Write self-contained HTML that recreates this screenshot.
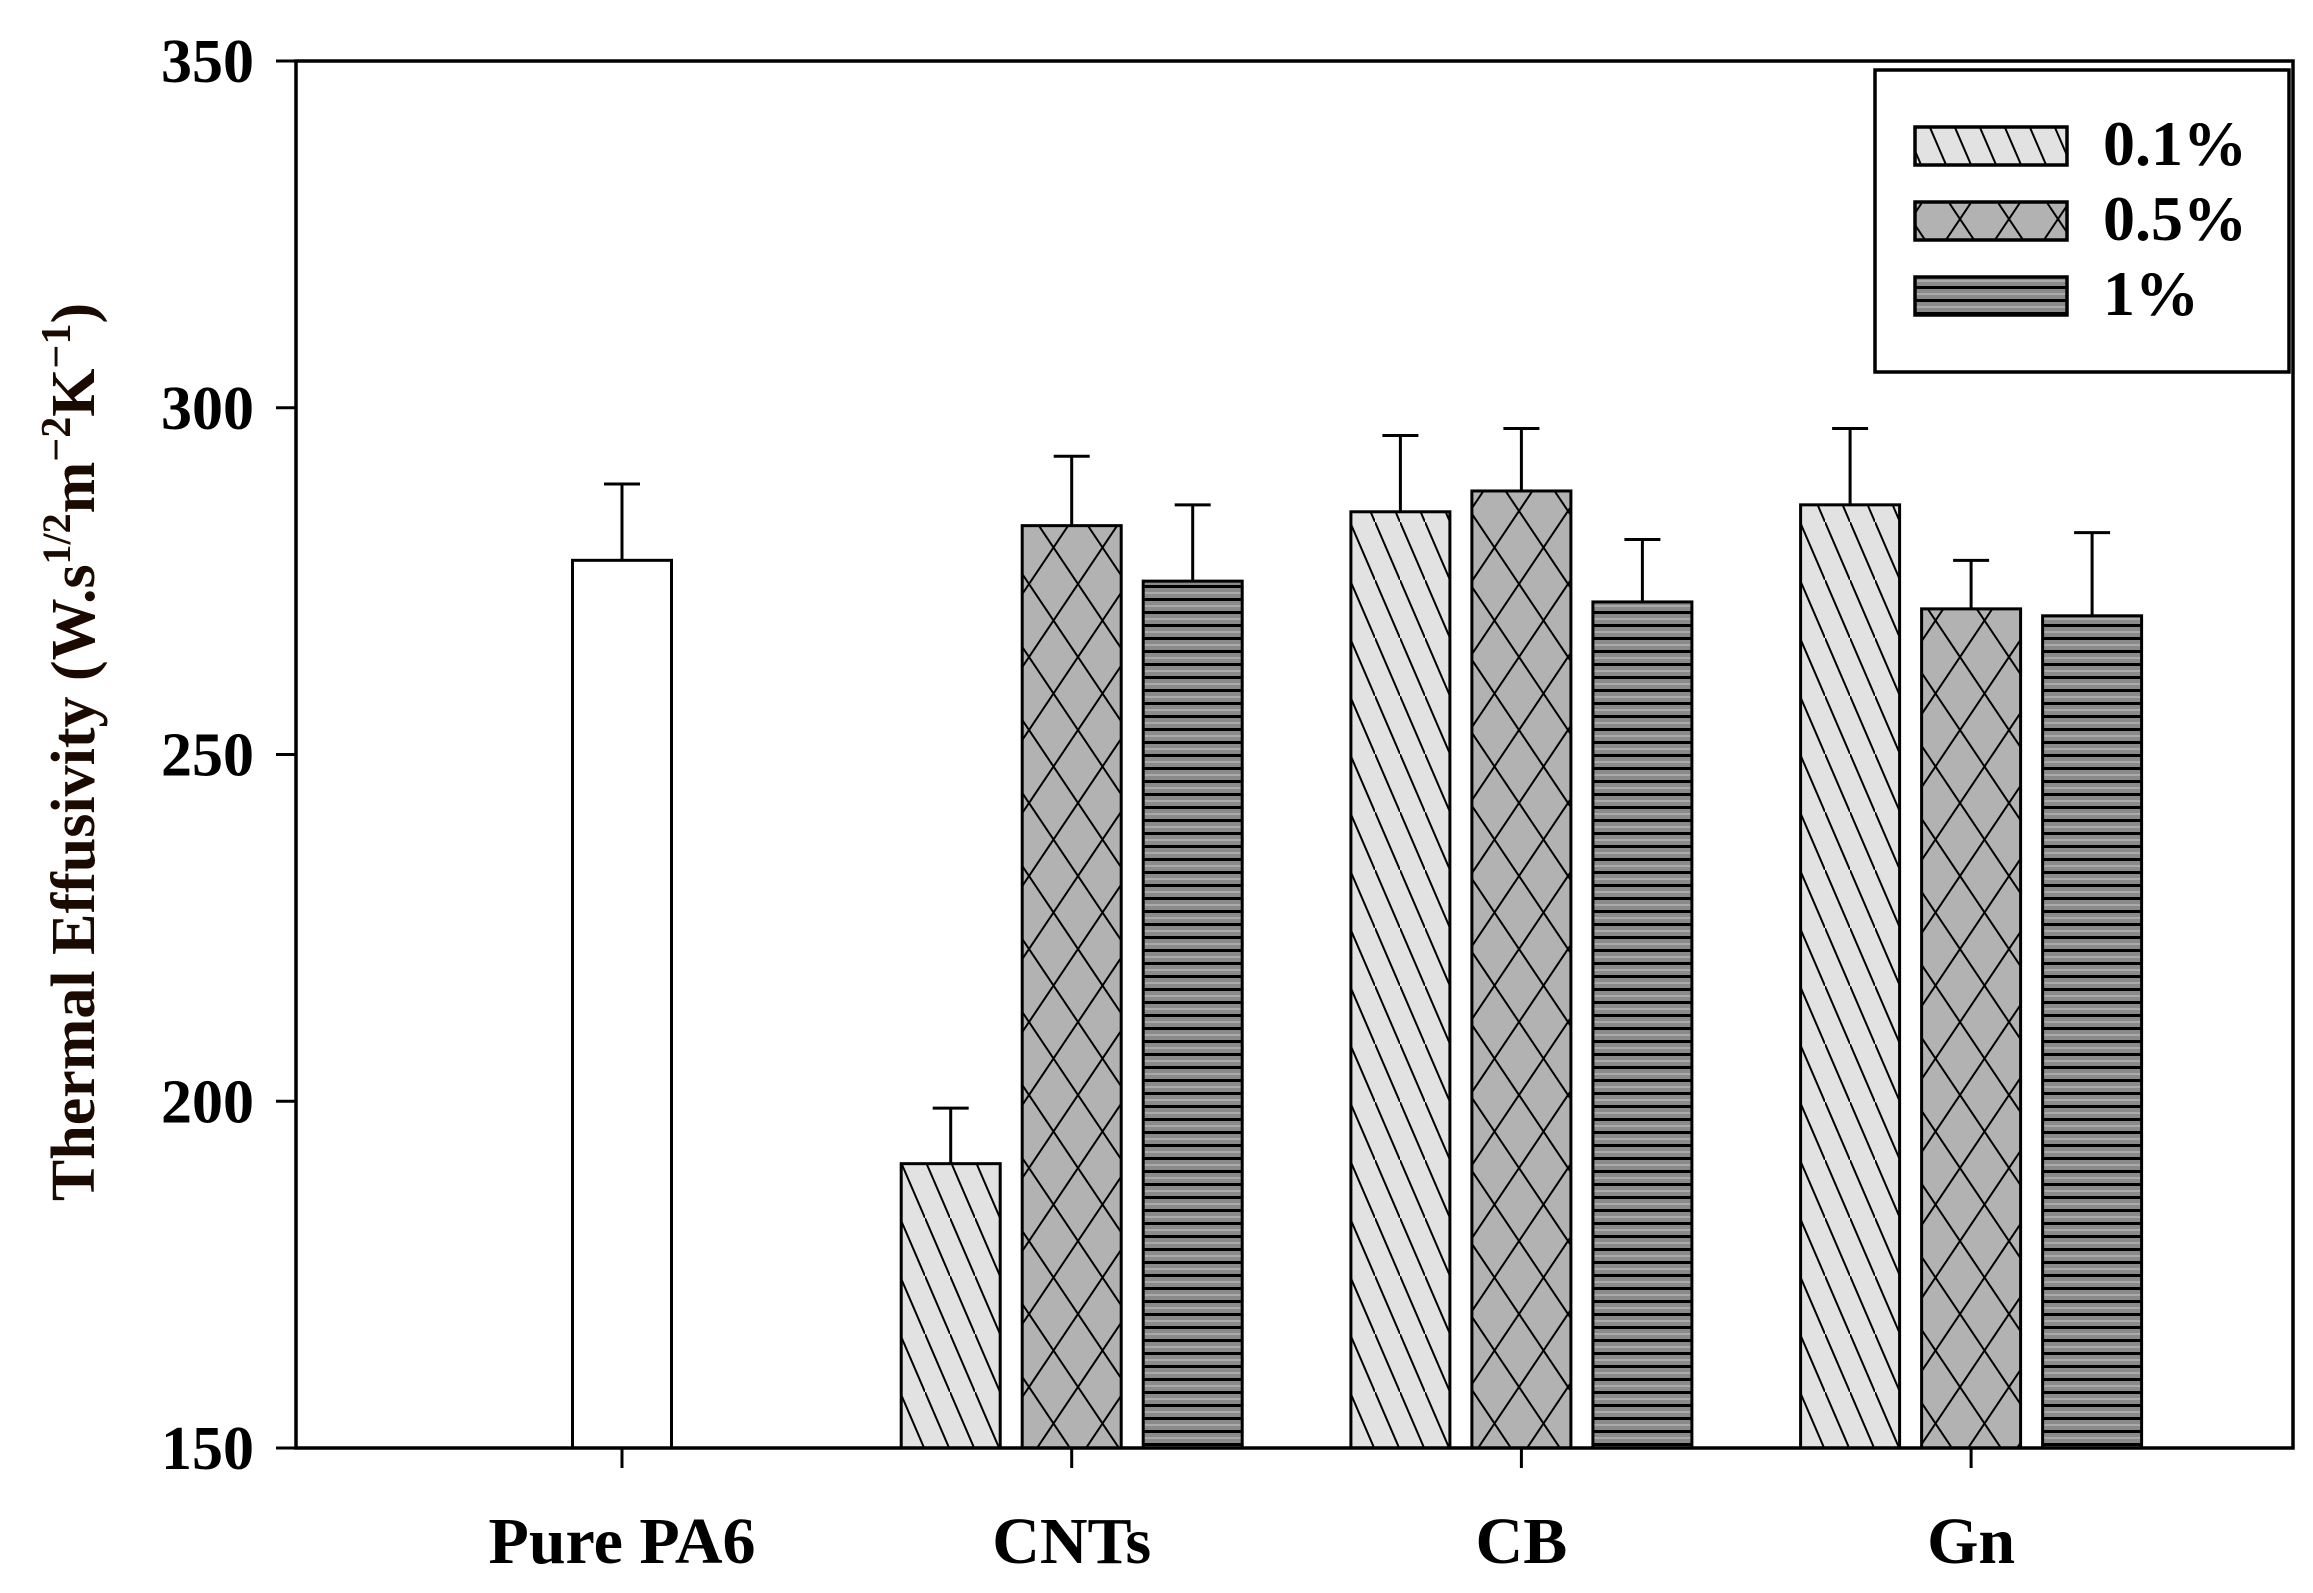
<!DOCTYPE html>
<html><head><meta charset="utf-8"><style>
html,body{margin:0;padding:0;background:#fff;}
svg{display:block;font-family:"Liberation Serif",serif;font-weight:bold;}
</style></head><body>
<svg id="chart" width="2313" height="1593" viewBox="0 0 2313 1593">
<defs>
<pattern id="p01" patternUnits="userSpaceOnUse" width="25" height="58">
<rect width="25" height="58" fill="#e2e2e2"/>
<line x1="0" y1="0" x2="25" y2="58" stroke="#000" stroke-width="2"/>
</pattern>
<pattern id="p05" patternUnits="userSpaceOnUse" width="49" height="73">
<rect width="49" height="73" fill="#b2b2b2"/>
<line x1="0" y1="0" x2="49" y2="73" stroke="#000" stroke-width="2"/>
<line x1="49" y1="0" x2="0" y2="73" stroke="#000" stroke-width="2"/>
</pattern>
<pattern id="p1" patternUnits="userSpaceOnUse" width="13" height="13">
<rect width="13" height="13" fill="#8a8a8a"/>
<rect y="0" width="13" height="3" fill="#000"/>
<rect y="7" width="13" height="2" fill="#aaa"/>
</pattern>
</defs>
<g id="plot"></g>
</svg>
<script>
const categories = ["Pure PA6","CNTs","CB","Gn"];
const seriesNames = ["0.1%","0.5%","1%"];
const pureValue = 278;
const pureErr = 289;
const s01 = [191,285,286];
const s01Err = [199,296,297];
const s05 = [283,288,271];
const s05Err = [293,297,278];
const s1 = [275,272,270];
const s1Err = [286,281,282];
const yTicks = [150,200,250,300,350];

const NS="http://www.w3.org/2000/svg";
const g=document.getElementById('plot');
const X0=296,X1=2293,Y0=1448,Ytop=61;
const y=v=>Y0-(v-150)/(350-150)*(Y0-Ytop);
const catX=i=>622+i*449.7;
function mk(tag,attrs,parent){const e=document.createElementNS(NS,tag);for(const k in attrs)e.setAttribute(k,attrs[k]);(parent||g).appendChild(e);return e;}

const fills=["url(#p01)","url(#p05)","url(#p1)"];
const BW=99,SP=121;
function bar(cx,v,err,fill,name){
  const r=mk('rect',{x:cx-BW/2,y:y(v),width:BW,height:Y0-y(v),fill:fill,stroke:'#000','stroke-width':3});
  
  
  const l=mk('path',{d:`M${cx},${y(v)}V${y(err)}M${cx-18},${y(err)}H${cx+18}`,stroke:'#000','stroke-width':3,fill:'none'});
  
  
}
bar(catX(0),pureValue,pureErr,'#fff','bar-pure-pa6');
const allS=[s01,s05,s1],allE=[s01Err,s05Err,s1Err];
for(let c=1;c<4;c++){
  for(let s=0;s<3;s++){
    bar(catX(c)+(s-1)*SP,allS[s][c-1],allE[s][c-1],fills[s],'bar-'+categories[c].toLowerCase()+'-'+s);
  }
}
const fr=mk('rect',{x:X0,y:Ytop,width:X1-X0,height:Y0-Ytop,fill:'none',stroke:'#000','stroke-width':3.5});


yTicks.forEach(t=>{
  const tl=mk('line',{x1:X0-20,x2:X0,y1:y(t),y2:y(t),stroke:'#000','stroke-width':3});
  
  
  const tx=mk('text',{x:254,y:y(t)+21,'text-anchor':'end','font-size':62});
  tx.textContent=t;
  
  
});
categories.forEach((c,i)=>{
  const tl=mk('line',{x1:catX(i),x2:catX(i),y1:Y0,y2:Y0+20,stroke:'#000','stroke-width':3});
  
  
  const tx=mk('text',{x:catX(i),y:1563,'text-anchor':'middle','font-size':66});
  tx.textContent=c;
  
  
});
const yt=mk('text',{transform:'translate(94,752) rotate(-90)','text-anchor':'middle','font-size':62,fill:'#1a0a00'});
yt.innerHTML='Thermal Effusivity (W.s<tspan dy="-24" font-size="40">1/2</tspan><tspan dy="24">m</tspan><tspan dy="-24" font-size="42">−2</tspan><tspan dy="24">K</tspan><tspan dy="-24" font-size="42">−1</tspan><tspan dy="24">)</tspan>';


const lg=mk('g',{});


mk('rect',{x:1875,y:70,width:414,height:302,fill:'#fff',stroke:'#000','stroke-width':3.5},lg);
const ly=[127,202,277];
seriesNames.forEach((n,i)=>{
  const sw=mk('rect',{x:1915,y:ly[i],width:152,height:38,fill:fills[i],stroke:'#000','stroke-width':3.5},lg);
  
  
  const tx=mk('text',{x:2103,y:ly[i]+38,'font-size':64},lg);
  tx.textContent=n;
  
  
});
</script>
</body></html>
